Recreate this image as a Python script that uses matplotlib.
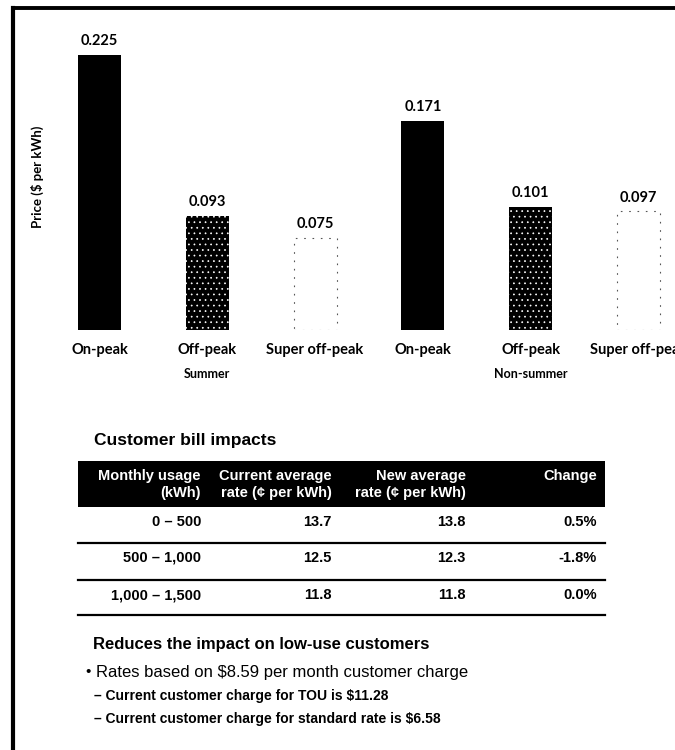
import matplotlib
matplotlib.use("Agg")
import matplotlib.pyplot as plt
from matplotlib.patches import Rectangle
from matplotlib.lines import Line2D

# --- TOU price data ($ per kWh) ---
periods = ["On-peak", "Off-peak", "Super off-peak", "On-peak", "Off-peak", "Super off-peak"]
prices = [0.225, 0.093, 0.075, 0.171, 0.101, 0.097]
period_kind = ["on", "off", "super", "on", "off", "super"]
seasons = ["Summer", "Non-summer"]
season_center = [1, 4]

# --- customer bill impact table ---
table_title = "Customer bill impacts"
header_line1 = ["Monthly usage", "Current average", "New average", "Change"]
header_line2 = ["(kWh)", "rate (¢ per kWh)", "rate (¢ per kWh)", ""]
usage_bands = ["0 – 500", "500 – 1,000", "1,000 – 1,500"]
current_rate = [13.7, 12.5, 11.8]
new_rate = [13.8, 12.3, 11.8]
change_pct = [0.5, -1.8, 0.0]

notes_heading = "Reduces the impact on low-use customers"
bullet_main = "Rates based on $8.59 per month customer charge"
sub_bullets = ["Current customer charge for TOU is $11.28",
               "Current customer charge for standard rate is $6.58"]

W, H = 675, 750
fig = plt.figure(figsize=(W / 100, H / 100), dpi=100)
fig.patch.set_facecolor("white")

CHART_FONT = ["Lato", "DejaVu Sans"]
TABLE_FONT = ["Liberation Sans", "DejaVu Sans"]
plt.rcParams["hatch.linewidth"] = 0.5

# ---------------- bar chart ----------------
left_px, right_px = 45.6, 692.4
top_px, base_px = 24.5, 330
ax = fig.add_axes([left_px / W, 1 - base_px / H,
                   (right_px - left_px) / W, (base_px - top_px) / H])
ax.set_xlim(-0.5, 5.5)
ax.set_ylim(0, 0.25)
ax.axis("off")

x = list(range(len(prices)))
bars = ax.bar(x, prices, width=0.4, color="black", linewidth=0)
for patch, kind in zip(bars.patches, period_kind):
    if kind == "off":
        patch.set_facecolor("black")
        patch.set_edgecolor("white")
        patch.set_hatch("...")
        patch.set_linewidth(0)
    elif kind == "super":
        patch.set_facecolor("white")
        patch.set_edgecolor("#555555")
        patch.set_linewidth(0.8)
        patch.set_linestyle((0, (1.5, 6)))

ax.bar_label(bars, fmt="%.3f", padding=5, fontsize=10.5, fontweight="bold",
             family=CHART_FONT, color="black")

for xi, name in zip(x, periods):
    ax.annotate(name, xy=(xi, 0), xycoords=("data", "axes fraction"),
                xytext=(0, -14.4), textcoords="offset points",
                ha="center", va="center", fontsize=10.5, fontweight="bold",
                family=CHART_FONT, annotation_clip=False)

for xc, season in zip(season_center, seasons):
    ax.annotate(season, xy=(xc, 0), xycoords=("data", "axes fraction"),
                xytext=(0, -31.5), textcoords="offset points",
                ha="center", va="center", fontsize=9, fontweight="bold",
                family=CHART_FONT, annotation_clip=False)

fig.text(37 / W, 1 - 177 / H, "Price ($ per kWh)", rotation=90,
         ha="center", va="center", fontsize=9.5, fontweight="bold",
         family=CHART_FONT)

# ---------------- overlay: frame, table, notes ----------------
ov = fig.add_axes([0, 0, 1, 1])
ov.set_xlim(0, W)
ov.set_ylim(H, 0)
ov.axis("off")

# slide frame (left and top edges)
ov.add_line(Line2D([13, 13], [8, H], color="black", lw=3.0,
                   solid_capstyle="projecting"))
ov.add_line(Line2D([13, W], [8, 8], color="black", lw=2.8,
                   solid_capstyle="projecting"))

ov.text(94, 440, table_title, ha="left", va="center", fontsize=12.5,
        fontweight="bold", family=TABLE_FONT)

tab_left, tab_right = 78, 605
ov.add_patch(Rectangle((tab_left, 461), tab_right - tab_left, 46,
                       facecolor="black", edgecolor="none"))

col_right = [201, 332, 466, 597]
for xr, l1, l2 in zip(col_right, header_line1, header_line2):
    ov.text(xr, 476, l1, ha="right", va="center", color="white",
            fontsize=10.5, fontweight="bold", family=TABLE_FONT)
    if l2:
        ov.text(xr, 493, l2, ha="right", va="center", color="white",
                fontsize=10.5, fontweight="bold", family=TABLE_FONT)

row_y = [522, 558, 595]
line_y = [543, 580, 615]
for i, y in enumerate(row_y):
    cells = [usage_bands[i], f"{current_rate[i]:.1f}",
             f"{new_rate[i]:.1f}", f"{change_pct[i]:.1f}%"]
    for xr, cell in zip(col_right, cells):
        ov.text(xr, y, cell, ha="right", va="center", fontsize=10.5,
                fontweight="bold", family=TABLE_FONT)
for ly in line_y:
    ov.add_line(Line2D([tab_left, tab_right], [ly, ly], color="black", lw=1.6))

ov.text(93, 644, notes_heading, ha="left", va="center", fontsize=12,
        fontweight="bold", family=TABLE_FONT)
ov.text(85, 672, "•", ha="left", va="center", fontsize=11, family=TABLE_FONT)
ov.text(96, 672, bullet_main, ha="left", va="center", fontsize=12,
        family=TABLE_FONT)
for y, s in zip([696, 719], sub_bullets):
    ov.text(94, y, "– " + s, ha="left", va="center", fontsize=10,
            fontweight="bold", family=TABLE_FONT)

fig.savefig("out.png", dpi=100, facecolor="white")
